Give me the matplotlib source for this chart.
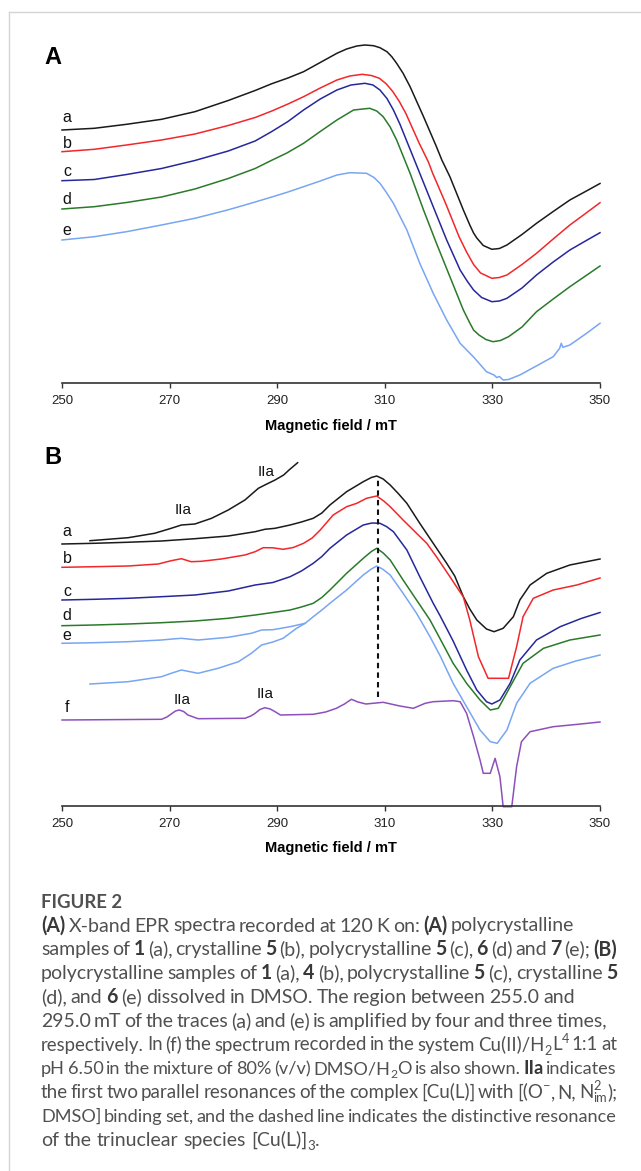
import matplotlib
matplotlib.use('Agg')
import matplotlib.pyplot as plt
from matplotlib.lines import Line2D
import statistics

# ---------------- data ----------------
ticks = [250, 270, 290, 310, 330, 350]
xlabel = "Magnetic field / mT"

# Panel A  (field in mT, signal in arbitrary units)
A_field_a = [250, 256, 262, 268.5, 274.7, 280.9, 285.9, 289, 292, 294.9, 298, 301.1, 302.9, 304.8, 306.3, 307.9, 309.1, 310.4, 311.3, 312.2, 313.4, 314.7, 317.2, 319.6, 320.6, 322.1, 324.6, 325.8, 326.5, 327.1, 328.3, 329.9, 331.3, 332.7, 335.5, 338.2, 341.3, 344.4, 347.3, 350]
A_a = [253, 254.7, 258.7, 263.7, 271.3, 282.5, 292.5, 299.3, 305, 311.3, 320.5, 329.7, 334, 337, 338, 337.3, 335.3, 331.3, 326.3, 319.7, 309.7, 296.3, 266.3, 236.3, 223, 206.3, 173, 158, 150, 145, 137.5, 133.7, 134.5, 138, 148.5, 159.7, 171.5, 183, 191.5, 199.5]

A_field_b = [250, 256, 262, 268.5, 274.7, 280.9, 285.9, 289, 292, 294.9, 298, 301.1, 303.5, 305.8, 307.5, 309, 310.3, 311.5, 312.7, 313.9, 316.4, 318.1, 318.9, 321.3, 323.8, 325.2, 326.5, 327.8, 329.9, 331.3, 332.7, 335.5, 338.2, 341.3, 344.4, 347.3, 350]
A_b = [231.3, 233.7, 238, 243, 249, 257.5, 265.5, 272, 279, 286.3, 295, 303, 307, 308.7, 307.5, 304.7, 299, 291.3, 281.5, 269.7, 239.7, 221, 209.7, 179.7, 146.3, 131, 118.5, 110, 104.7, 105.5, 108, 118.5, 129.7, 144, 158, 169.5, 180.3]

A_field_c = [250, 256, 262, 268.5, 274.7, 280.9, 285.9, 289, 292, 294.9, 298, 301.1, 303.7, 306.3, 307.8, 309.1, 310.4, 311.6, 312.8, 314, 316.5, 319, 321.5, 324, 325.3, 326.5, 328, 329.9, 331.3, 332.7, 335.5, 338.2, 341.3, 344.4, 347.3, 350]
A_c = [202.3, 203.5, 208.5, 214.5, 222.5, 232, 242, 251.5, 261.5, 273, 284, 293, 298, 299.7, 298, 293, 284.5, 273, 259, 243, 209.7, 176.3, 143, 113, 102, 93, 85.5, 81.3, 82, 84.7, 95, 108, 121, 133, 142, 150.3]

A_field_d = [250, 256, 262, 268.5, 274.7, 280.9, 285.9, 288.7, 291.8, 294.9, 298, 301.1, 304.2, 307.2, 308.5, 309.7, 311, 312.2, 314.7, 317.2, 319.6, 322.1, 324.6, 325.8, 326.5, 327.5, 328.8, 330.1, 331.5, 333, 335.5, 338.2, 341.3, 344.4, 347.3, 350]
A_d = [174, 176.3, 180.5, 186, 194, 204.5, 214.5, 222, 230, 239.7, 251.5, 263, 273, 274.7, 272, 266.3, 256, 243, 209.7, 173, 139.7, 106.3, 73, 60, 53, 48, 43.5, 41.3, 42.5, 46.3, 56, 71.3, 84, 96.3, 107, 117]

A_field_e = [250, 256, 262, 268.5, 274.7, 280.9, 285.9, 289, 292, 294.9, 298, 301.1, 303.5, 306.6, 308, 309.1, 310.3, 311.6, 314.1, 316.5, 319, 321.5, 324, 326.5, 328.9, 330.3, 330.8, 331.3, 332, 333, 335.1, 338, 341.3, 342.5, 342.8, 343.1, 344.4, 347.5, 350]
A_e = [143, 146.3, 151.3, 158, 164.7, 173.2, 181, 186, 191, 196.3, 202, 208, 210.3, 209.7, 205.5, 199.7, 190.5, 179.7, 153, 119.7, 89.7, 63, 39.7, 26, 11.3, 8, 5.5, 6.5, 3, 3.5, 8, 16.5, 26.3, 34.7, 39.7, 35.7, 38, 49.7, 59.7]

# Panel B
B_field_a = [250, 256, 262, 268.5, 274.7, 280.9, 285.9, 287.7, 289.6, 292.4, 294.5, 296.7, 298.3, 299.8, 302.9, 306, 307.5, 308.5, 309.7, 311, 312.5, 314.1, 316.5, 319, 321.5, 323, 324.6, 325.8, 327.1, 328.9, 330.3, 332, 333.9, 335.1, 337, 340.1, 344.4, 350]
B_a = [262, 262.7, 263.7, 265, 267.3, 270, 274.3, 276.7, 277.7, 281, 284, 287.7, 293, 301, 314.3, 324.3, 328.5, 330, 327, 321, 312.5, 302.7, 282.7, 262.7, 242.7, 230, 209.3, 197, 186, 177, 174.3, 177.7, 189.3, 206, 221, 232.7, 241, 247]

B_field_a4 = [255.2, 262.3, 267.2, 270.3, 272.2, 274.7, 277.8, 280.9, 284, 286.5, 287.7, 289.6, 291.2, 292.2, 293.8]
B_a4 = [265.3, 268.3, 272.7, 277.7, 281, 282, 287.7, 296, 306, 317.7, 321, 326, 331, 336, 343.3]

B_field_b = [250, 256, 262.3, 267.9, 270.3, 272.2, 274, 275.9, 279.6, 284, 285.9, 287.4, 289.2, 291.1, 293, 294.9, 296.5, 298, 300.4, 302.9, 304.8, 306.6, 308.5, 309.8, 311, 313.4, 315.9, 317.8, 319.6, 322.1, 324.6, 325.8, 327.4, 329.2, 333, 334.5, 335.7, 337.6, 341.3, 345.7, 350]
B_b = [238.7, 239.3, 240, 242, 245.3, 247.3, 244.3, 244.7, 247, 251, 254.3, 258.3, 258.2, 256.7, 258.5, 262.7, 268, 276, 291, 299.3, 302.7, 307.7, 310, 305, 299.3, 286, 272.7, 262.7, 249.3, 229.3, 209, 186, 149.3, 127.7, 127.7, 159.3, 189.3, 207.7, 216, 221, 228]

B_field_c = [250, 256, 262.3, 268.5, 274.7, 280.9, 285.9, 289.2, 292.4, 294.5, 296.7, 298.3, 299.8, 302.9, 306, 307.6, 309.1, 310.3, 311.6, 314.1, 316.5, 319, 320.3, 322.7, 325.2, 327.1, 328.9, 329.9, 331.4, 333.3, 335.1, 338.2, 342.6, 346.5, 350]
B_c = [206, 206.7, 207.7, 209.3, 211, 215, 221, 223.5, 229.3, 235, 242.7, 249.5, 257.7, 271, 281, 283, 282.7, 279.5, 274.3, 256, 229.3, 202.7, 190, 165, 136, 116, 104.3, 102, 106, 122.7, 146, 166, 179.3, 187.5, 193.5]

B_field_d = [250, 256, 262.3, 268.5, 274.7, 280.9, 285.9, 289.2, 292.4, 294.5, 296.7, 298.3, 299.8, 302.9, 306, 307.5, 308.5, 309.7, 311, 313.4, 315.9, 318.4, 320.3, 322.7, 325.2, 327.7, 329.6, 331.1, 333.3, 335.7, 339.5, 344.4, 350]
B_d = [180.3, 181, 182, 183.3, 185, 187.7, 191, 193.5, 196, 199, 202.7, 208.5, 216, 232.7, 247.7, 254.5, 257.7, 253, 246, 226, 206, 186, 167, 142.7, 122.7, 106, 96, 97.7, 119.3, 142.7, 157.7, 166, 171]

B_field_e = [250, 256, 262.3, 268.5, 270.5, 272.2, 273.8, 275.3, 280.9, 285.2, 287.1, 289.2, 292.4, 295.2, 296.7, 298.3, 299.8, 302.9, 306, 307.5, 308.5, 309.7, 311, 313.4, 315.9, 318.4, 320.3, 322.7, 325.2, 327.7, 329.6, 330.9, 332.7, 334.5, 337, 341.3, 345.5, 350]
B_e = [162.7, 163.3, 164.3, 166, 167, 167.7, 166.8, 166, 168.7, 172.7, 176, 176.3, 179.3, 182.7, 189.3, 196, 202.7, 216, 231, 237, 240, 236.5, 231, 212.7, 192.7, 169.3, 150, 122.7, 99.3, 76, 64.3, 62.7, 76, 102.7, 122.7, 137.7, 145, 151]

B_field_e3 = [255.2, 262.3, 268.5, 270.3, 272.2, 275.3, 279, 282.8, 285.2, 287.1, 289.2, 291.1, 293.6, 295.2]
B_e3 = [122, 124.3, 129.3, 132.7, 136, 132.7, 137.7, 144.3, 152.7, 161, 164, 167.7, 177.7, 182.7]

B_field_f = [250, 268.5, 269.5, 270.3, 271.1, 271.8, 272.6, 273.4, 275.3, 284, 285.1, 285.9, 286.8, 287.7, 288.7, 289.6, 290.6, 296.7, 299, 301, 302.5, 303.8, 305, 306.5, 309.7, 312.8, 315.3, 317.5, 319, 322.7, 324, 325.2, 326.5, 327.7, 328.3, 329.6, 330.5, 331.4, 332, 333.6, 334.5, 335.4, 337, 341.3, 345.5, 350]
B_f = [86, 86.7, 89, 92, 95, 96, 94.5, 91, 87.3, 87.7, 90, 92.7, 96.5, 98.3, 97, 94.3, 91, 91.7, 94, 97.7, 102, 106.7, 104, 102, 103.7, 100, 97.7, 102.7, 104.3, 105.3, 104.3, 92.7, 69.3, 46, 32.7, 32.7, 47.7, 29.3, -0.7, -0.7, 39.3, 64.3, 74.3, 79.3, 81.5, 84]

dash_field = 308.7
dash_range = [109, 329]

trace_labels_A = ["a", "b", "c", "d", "e"]
trace_labels_B = ["a", "b", "c", "d", "e", "f"]

# ---------------- styling ----------------
W, H = 641, 1171
C_BLACK, C_RED, C_BLUE, C_GREEN, C_LBLUE, C_PURPLE = (
    '#1a1a1a', '#f2272a', '#27279c', '#2a7a2a', '#78a6f2', '#8d50bb')
SANS = ['Liberation Sans', 'DejaVu Sans']
LW = 1.1

fig = plt.figure(figsize=(W / 100, H / 100), dpi=100)
fig.patch.set_facecolor('white')


def fx(px):
    return px / W


def fy(py):
    return 1 - py / H


# page border lines
fig.add_artist(Line2D([fx(8.5), fx(8.5)], [0, fy(12)], transform=fig.transFigure,
                      color='#d4d4d4', lw=1.0))
fig.add_artist(Line2D([fx(8.5), 1], [fy(12), fy(12)], transform=fig.transFigure,
                      color='#d4d4d4', lw=1.0))


def make_axes(bottom_px, top_px):
    ax = fig.add_axes([fx(62), fy(bottom_px), fx(600) - fx(62), (bottom_px - top_px) / H])
    ax.set_xlim(250, 350)
    ax.set_ylim(0, bottom_px - top_px)
    for s in ['top', 'left', 'right']:
        ax.spines[s].set_visible(False)
    ax.spines['bottom'].set_color('#333333')
    ax.spines['bottom'].set_linewidth(1.2)
    ax.set_yticks([])
    ax.set_xticks(ticks)
    ax.set_xticklabels([str(t) for t in ticks], family=SANS, fontsize=9.5, color='#222222')
    ax.tick_params(axis='x', direction='out', length=3.5, width=1.0, pad=5, color='#333333')
    ax.patch.set_alpha(0)
    return ax


# Panel A
axA = make_axes(383, 30)
for fld, val, col in [(A_field_a, A_a, C_BLACK), (A_field_b, A_b, C_RED), (A_field_c, A_c, C_BLUE),
                      (A_field_d, A_d, C_GREEN), (A_field_e, A_e, C_LBLUE)]:
    axA.plot(fld, val, color=col, lw=LW, clip_on=False, solid_joinstyle='round')

# Panel B
axB = make_axes(806, 455)
for fld, val, col in [(B_field_a, B_a, C_BLACK), (B_field_a4, B_a4, C_BLACK),
                      (B_field_b, B_b, C_RED), (B_field_c, B_c, C_BLUE),
                      (B_field_d, B_d, C_GREEN), (B_field_e, B_e, C_LBLUE),
                      (B_field_e3, B_e3, C_LBLUE), (B_field_f, B_f, C_PURPLE)]:
    axB.plot(fld, val, color=col, lw=LW, clip_on=False, solid_joinstyle='round')
axB.plot([dash_field, dash_field], dash_range, color='#111111', lw=1.5,
         ls=(0, (2.6, 2.0)), clip_on=False)


def ftext(x, y, s, **kw):
    return fig.text(fx(x), fy(y), s, **kw)


# panel letters and axis titles
ftext(53, 58, "A", family=SANS, fontsize=17, weight='bold', ha='center', va='center')
ftext(53, 457, "B", family=SANS, fontsize=17, weight='bold', ha='center', va='center')
ftext(331, 426, xlabel, family=SANS, fontsize=10.5, weight='bold', ha='center', va='center')
ftext(331, 848, xlabel, family=SANS, fontsize=10.5, weight='bold', ha='center', va='center')

for lab, y in zip(trace_labels_A, [117, 143, 171.5, 199, 230]):
    ftext(67, y, lab, family=SANS, fontsize=11.5, ha='center', va='center', color='#111111')
for lab, y in zip(trace_labels_B, [531.5, 558.5, 591, 615.5, 635, 708]):
    ftext(67, y, lab, family=SANS, fontsize=11.5, ha='center', va='center', color='#111111')
for x, y in [(183.5, 509.5), (266.5, 472), (182, 699.5), (265, 693.5)]:
    ftext(x, y, "IIa", family=SANS, fontsize=11, ha='center', va='center', color='#111111')

# ---------------- caption ----------------
renderer = fig.canvas.get_renderer()
CAP_FAM = ['Lato', 'DejaVu Sans']
CAP_COL = '#505050'
CAP_BOLD = '#383838'

R, B, SUB, SUP, SS = 'r', 'b', 'sub', 'sup', 'ss'
caption = [
    [("(A)", B), (" X-band EPR spectra recorded at 120 K on: ", R), ("(A)", B), (" polycrystalline", R)],
    [("samples of ", R), ("1", B), (" (a), crystalline ", R), ("5", B), (" (b), polycrystalline ", R), ("5", B),
     (" (c), ", R), ("6", B), (" (d) and ", R), ("7", B), (" (e); ", R), ("(B)", B)],
    [("polycrystalline samples of ", R), ("1", B), (" (a), ", R), ("4", B), (" (b), polycrystalline ", R),
     ("5", B), (" (c), crystalline ", R), ("5", B)],
    [("(d), and ", R), ("6", B), (" (e) dissolved in DMSO. The region between 255.0 and", R)],
    [("295.0 mT of the traces (a) and (e) is amplified by four and three times,", R)],
    [("respectively. In (f) the spectrum recorded in the system Cu(II)/H", R), ("2", SUB), ("L", R),
     ("4", SUP), (" 1:1 at", R)],
    [("pH 6.50 in the mixture of 80% (v/v) DMSO/H", R), ("2", SUB), ("O is also shown. ", R), ("IIa", B),
     (" indicates", R)],
    [("the first two parallel resonances of the complex [Cu(L)] with [(O", R), ("\u2212", SUP),
     (", N, N", R), ("2|im", SS), (");", R)],
    [("DMSO] binding set, and the dashed line indicates the distinctive resonance", R)],
    [("of the trinuclear species [Cu(L)]", R), ("3", SUB), (".", R)],
]
line_ends = [574, 617, 617, 575, 607, 617, 617, 617, 617, None]
X0 = 41
BASE0 = 931.5
LSTEP = 23.8
MIN_GAP = 2.8


def props(style, fs):
    if style == B:
        return dict(family=CAP_FAM, fontsize=fs, weight='bold', color=CAP_BOLD)
    if style in (SUB, SUP, SS):
        return dict(family=CAP_FAM, fontsize=fs * 0.68, color=CAP_COL)
    return dict(family=CAP_FAM, fontsize=fs, color=CAP_COL)


def measure(s, pr):
    t = fig.text(0, 0, s, **pr)
    w = t.get_window_extent(renderer).width
    t.remove()
    return w


def piece_width(s, style, fs):
    if style == SS:
        a, b = s.split('|')
        return max(measure(a, props(SS, fs)), measure(b, props(SS, fs)))
    return measure(s, props(style, fs))


def words_of(line):
    words, cur = [], []
    for txt, st in line:
        parts = txt.split(' ')
        for i, p in enumerate(parts):
            if i > 0:
                if cur:
                    words.append(cur)
                cur = []
            if p:
                cur.append((p, st))
    if cur:
        words.append(cur)
    return words


def word_widths(line, fs):
    return [sum(piece_width(p, st, fs) for p, st in w) for w in words_of(line)]


def draw_line(line, base, fs, end):
    fs_px = fs * 100 / 72
    space = measure("a a", props(R, fs)) - measure("aa", props(R, fs))
    words = words_of(line)
    widths = word_widths(line, fs)
    gap = space
    if end is not None and len(words) > 1:
        gap = (end - X0 - sum(widths)) / (len(words) - 1)
    x = X0
    for w, ww in zip(words, widths):
        xx = x
        for p, st in w:
            pr = props(st, fs)
            if st == SS:
                a, b = p.split('|')
                ftext(xx, base - 0.42 * fs_px, a, va='baseline', ha='left', **pr)
                ftext(xx, base + 0.22 * fs_px, b, va='baseline', ha='left', **pr)
            elif st == SUB:
                ftext(xx, base + 0.22 * fs_px, p, va='baseline', ha='left', **pr)
            elif st == SUP:
                ftext(xx, base - 0.42 * fs_px, p, va='baseline', ha='left', **pr)
            else:
                ftext(xx, base, p, va='baseline', ha='left', **pr)
            xx += piece_width(p, st, fs)
        x += ww + gap


# font size: the largest size at which each line still fits with tight word gaps
fs0 = 10.0
fit = []
for l, e in zip(caption, line_ends):
    if e is None:
        fit.append(None)
        continue
    ws = word_widths(l, fs0)
    fit.append(fs0 * (e - X0 - MIN_GAP * (len(ws) - 1)) / sum(ws))
cap_fs = statistics.median([f for f in fit if f is not None])

fig_fs = 10.0 * 81 / measure("FIGURE 2", dict(family=CAP_FAM, fontsize=10, weight='bold'))
ftext(X0, 908.5, "FIGURE 2", family=CAP_FAM, fontsize=fig_fs, weight='bold',
      color='#505050', va='baseline', ha='left')
for i, line in enumerate(caption):
    fs_i = cap_fs if fit[i] is None else min(cap_fs, fit[i])
    draw_line(line, BASE0 + i * LSTEP, fs_i, line_ends[i])

fig.savefig('out.png', dpi=100, facecolor='white')
